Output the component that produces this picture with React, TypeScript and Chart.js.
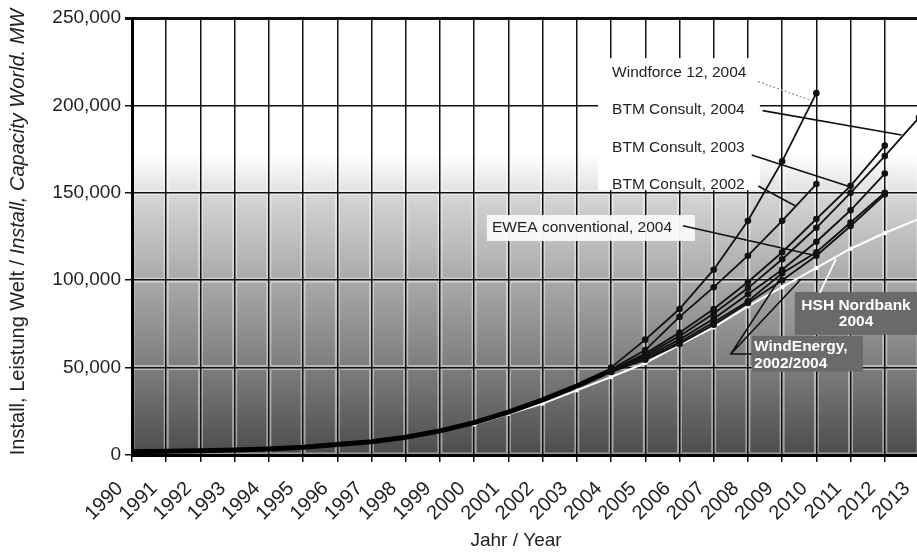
import React, { useEffect, useRef } from "react";
import { Chart, registerables } from "chart.js";

Chart.register(...registerables);

const FONT = '"Liberation Sans", Arial, Helvetica, sans-serif';

// ---- data ----
const years = [1990, 1991, 1992, 1993, 1994, 1995, 1996, 1997, 1998, 1999, 2000, 2001, 2002, 2003, 2004, 2005, 2006, 2007, 2008, 2009, 2010, 2011, 2012, 2013];
const yTicks = [0, 50000, 100000, 150000, 200000, 250000];

const actual = [1900, 2200, 2400, 2900, 3500, 4500, 6000, 7600, 10200, 13800, 18500, 24500, 31500, 39500, 48500, null, null, null, null, null, null, null, null, null];
const windforce2004 = [null, null, null, null, null, null, null, null, null, null, null, null, null, null, 50000, 66000, 83500, 106000, 134000, 168000, 207000, null, null, null];
const btm2002 = [null, null, null, null, null, null, null, null, null, null, null, null, null, null, 49000, 60000, 79000, 96000, 114000, 134000, 155000, null, null, null];
const btm2003 = [null, null, null, null, null, null, null, null, null, null, null, null, null, null, 48500, 58000, 70000, 83500, 99000, 116000, 135000, 154000, 177000, null];
const btm2004 = [null, null, null, null, null, null, null, null, null, null, null, null, null, null, 48000, 57000, 68000, 81000, 95500, 112000, 130000, 150000, 171000, 193000];
const windEnergy2002 = [null, null, null, null, null, null, null, null, null, null, null, null, null, null, 48000, 56000, 66000, 78000, 92000, 106000, 122000, 140000, 161000, null];
const ewea2004 = [null, null, null, null, null, null, null, null, null, null, null, null, null, null, 47500, 55000, 64500, 76000, 88000, 104000, 116000, 133000, 150000, null];
const windEnergy2004 = [null, null, null, null, null, null, null, null, null, null, null, null, null, null, 47500, 54500, 63500, 74500, 87000, 100000, 114000, 131000, 149000, null];
const hsh2004 = [null, null, null, null, null, null, null, null, null, null, 17500, 23500, 29500, 37000, 44600, 52600, 63000, 73000, 85000, 96000, 107000, 118000, 127000, 135000];

// ---- callout labels (anchored in data units: [year, MW]) ----
const topLabels = [
  { text: "Windforce 12, 2004", at: [2004.03, 218500], from: [2008.3, 213600], to: [2009.87, 202700], dotted: true },
  { text: "BTM Consult, 2004", at: [2004.03, 197400], from: [2008.43, 197000], to: [2012.49, 183100], dotted: false },
  { text: "BTM Consult, 2003", at: [2004.03, 175600], from: [2008.11, 171600], to: [2010.98, 153500], dotted: false },
  { text: "BTM Consult, 2002", at: [2004.03, 154500], from: [2008.3, 153900], to: [2009.38, 142600], dotted: false },
];
const topBox = [[2003.62, 227000], [2008.35, 151500]];
const eweaLabel = { text: "EWEA conventional, 2004", at: [2000.52, 129900], box: [[2000.37, 137300], [2006.45, 122400]], from: [2006.1, 131200], to: [2009.9, 114400] };
const hshLabel = { lines: ["HSH Nordbank", "2004"], at: [[2011.16, 85200], [2011.16, 76100]], box: [[2009.37, 93300], [2013.4, 68700]], from: [2010.1, 92700], to: [2010.57, 112100] };
const weLabel = { lines: ["WindEnergy,", "2002/2004"], at: [[2008.18, 62000], [2008.18, 52500]], box: [[2008.11, 68100], [2011.36, 47700]], corner: [2007.5, 57800], to1: [2009.02, 103500], to2: [2009.55, 100500] };

function pts(arr: (number | null)[]) {
  const out: { x: number; y: number }[] = [];
  arr.forEach((v, i) => {
    if (v !== null) out.push({ x: years[i], y: v });
  });
  return out;
}

const bgPlugin = {
  id: "bgPlugin",
  beforeDraw(chart: any) {
    const { ctx, chartArea: a, scales } = chart;
    const ys = scales.y;
    const xs = scales.x;
    const w = a.right - a.left;
    ctx.save();
    ctx.fillStyle = "#ffffff";
    ctx.fillRect(a.left, a.top, w, a.bottom - a.top);
    const y172 = ys.getPixelForValue(172000);
    const y150 = ys.getPixelForValue(150000);
    let g = ctx.createLinearGradient(0, y172, 0, y150);
    g.addColorStop(0, "#ffffff");
    g.addColorStop(1, "#e0e0e0");
    ctx.fillStyle = g;
    ctx.fillRect(a.left, y172, w, y150 - y172);
    g = ctx.createLinearGradient(0, y150, 0, a.bottom);
    g.addColorStop(0, "#d6d6d6");
    g.addColorStop(0.333, "#a9a9a9");
    g.addColorStop(0.667, "#7d7d7d");
    g.addColorStop(1, "#4c4c4c");
    ctx.fillStyle = g;
    ctx.fillRect(a.left, y150, w, a.bottom - y150);
    // soft white halo around grid lines
    ctx.strokeStyle = "rgba(255,255,255,0.45)";
    ctx.lineWidth = 5;
    ctx.beginPath();
    years.forEach((yr) => {
      const px = xs.getPixelForValue(yr);
      ctx.moveTo(px, y172);
      ctx.lineTo(px, a.bottom);
    });
    yTicks.forEach((v) => {
      if (v <= 150000) {
        const py = ys.getPixelForValue(v);
        ctx.moveTo(a.left, py);
        ctx.lineTo(a.right, py);
      }
    });
    ctx.stroke();
    ctx.restore();
  },
  beforeDatasetsDraw(chart: any) {
    const { ctx, scales } = chart;
    const X = (v: number) => scales.x.getPixelForValue(v);
    const Y = (v: number) => scales.y.getPixelForValue(v);
    ctx.save();
    ctx.fillStyle = "#ffffff";
    ctx.fillRect(X(topBox[0][0]), Y(topBox[0][1]), X(topBox[1][0]) - X(topBox[0][0]), Y(topBox[1][1]) - Y(topBox[0][1]));
    const b = eweaLabel.box;
    ctx.fillStyle = "rgba(250,250,250,0.95)";
    ctx.fillRect(X(b[0][0]), Y(b[0][1]), X(b[1][0]) - X(b[0][0]), Y(b[1][1]) - Y(b[0][1]));
    ctx.restore();
  },
  afterDatasetsDraw(chart: any) {
    const { ctx, scales } = chart;
    const X = (v: number) => scales.x.getPixelForValue(v);
    const Y = (v: number) => scales.y.getPixelForValue(v);
    ctx.save();
    ctx.font = `15.5px ${FONT}`;
    ctx.textBaseline = "middle";
    ctx.textAlign = "left";
    topLabels.forEach((l) => {
      ctx.fillStyle = "#222";
      ctx.fillText(l.text, X(l.at[0]), Y(l.at[1]));
      ctx.beginPath();
      if (l.dotted) {
        ctx.setLineDash([2, 2]);
        ctx.strokeStyle = "#9a9a9a";
        ctx.lineWidth = 1.3;
      } else {
        ctx.setLineDash([]);
        ctx.strokeStyle = "#111";
        ctx.lineWidth = 1.6;
      }
      ctx.moveTo(X(l.from[0]), Y(l.from[1]));
      ctx.lineTo(X(l.to[0]), Y(l.to[1]));
      ctx.stroke();
    });
    ctx.setLineDash([]);
    // EWEA
    ctx.fillStyle = "#222";
    ctx.fillText(eweaLabel.text, X(eweaLabel.at[0]), Y(eweaLabel.at[1]));
    ctx.strokeStyle = "#111";
    ctx.lineWidth = 1.6;
    ctx.beginPath();
    ctx.moveTo(X(eweaLabel.from[0]), Y(eweaLabel.from[1]));
    ctx.lineTo(X(eweaLabel.to[0]), Y(eweaLabel.to[1]));
    ctx.stroke();
    // HSH
    let b = hshLabel.box;
    ctx.fillStyle = "#6a6a6a";
    ctx.fillRect(X(b[0][0]), Y(b[0][1]), X(b[1][0]) - X(b[0][0]), Y(b[1][1]) - Y(b[0][1]));
    ctx.font = `bold 15.5px ${FONT}`;
    ctx.fillStyle = "#ffffff";
    ctx.textAlign = "center";
    hshLabel.lines.forEach((t, i) => ctx.fillText(t, X(hshLabel.at[i][0]), Y(hshLabel.at[i][1])));
    ctx.strokeStyle = "#ffffff";
    ctx.lineWidth = 1.8;
    ctx.beginPath();
    ctx.moveTo(X(hshLabel.from[0]), Y(hshLabel.from[1]));
    ctx.lineTo(X(hshLabel.to[0]), Y(hshLabel.to[1]));
    ctx.stroke();
    // WindEnergy
    b = weLabel.box;
    ctx.fillStyle = "#6a6a6a";
    ctx.fillRect(X(b[0][0]), Y(b[0][1]), X(b[1][0]) - X(b[0][0]), Y(b[1][1]) - Y(b[0][1]));
    ctx.fillStyle = "#ffffff";
    ctx.textAlign = "left";
    weLabel.lines.forEach((t, i) => ctx.fillText(t, X(weLabel.at[i][0]), Y(weLabel.at[i][1])));
    ctx.strokeStyle = "#111";
    ctx.lineWidth = 1.6;
    ctx.beginPath();
    ctx.moveTo(X(b[0][0]), Y(weLabel.corner[1]));
    ctx.lineTo(X(weLabel.corner[0]), Y(weLabel.corner[1]));
    ctx.lineTo(X(weLabel.to1[0]), Y(weLabel.to1[1]));
    ctx.moveTo(X(weLabel.corner[0]), Y(weLabel.corner[1]));
    ctx.lineTo(X(weLabel.to2[0]), Y(weLabel.to2[1]));
    ctx.stroke();
    ctx.restore();
  },
  afterDraw(chart: any) {
    const { ctx } = chart;
    ctx.save();
    // y-axis title (mixed upright / italic)
    const p1 = "Install, Leistung Welt / ";
    const p2 = "Install, Capacity World. MW";
    ctx.translate(18, 232);
    ctx.rotate(-Math.PI / 2);
    ctx.font = `20px ${FONT}`;
    const w1 = ctx.measureText(p1).width;
    ctx.font = `italic 20px ${FONT}`;
    const w2 = ctx.measureText(p2).width;
    const start = -(w1 + w2) / 2;
    ctx.fillStyle = "#222";
    ctx.textBaseline = "middle";
    ctx.textAlign = "left";
    ctx.font = `20px ${FONT}`;
    ctx.fillText(p1, start, 0);
    ctx.font = `italic 20px ${FONT}`;
    ctx.fillText(p2, start + w1, 0);
    ctx.restore();
    ctx.save();
    ctx.font = `19px ${FONT}`;
    ctx.fillStyle = "#222";
    ctx.textAlign = "center";
    ctx.textBaseline = "middle";
    ctx.fillText("Jahr / Year", 516, 541);
    ctx.restore();
  },
};

export default function App() {
  const ref = useRef<HTMLCanvasElement | null>(null);
  useEffect(() => {
    if (!ref.current) return;
    const lineDs = (data: (number | null)[], opts: any = {}) => ({
      data: pts(data),
      borderColor: "#111",
      backgroundColor: "#111",
      borderWidth: 1.8,
      pointRadius: 3.3,
      pointBackgroundColor: "#111",
      pointBorderWidth: 0,
      tension: 0,
      ...opts,
    });
    const chart = new Chart(ref.current, {
      type: "line",
      data: {
        datasets: [
          lineDs(windforce2004, { label: "Windforce 12, 2004" }),
          lineDs(btm2002, { label: "BTM Consult, 2002" }),
          lineDs(btm2003, { label: "BTM Consult, 2003" }),
          lineDs(btm2004, { label: "BTM Consult, 2004" }),
          lineDs(windEnergy2002, { label: "WindEnergy, 2002" }),
          lineDs(ewea2004, { label: "EWEA conventional, 2004" }),
          lineDs(windEnergy2004, { label: "WindEnergy, 2004" }),
          lineDs(actual, { label: "Ist", borderWidth: 5, pointRadius: 0, borderColor: "#000" }),
          lineDs(hsh2004, { label: "HSH Nordbank 2004", borderColor: "#ffffff", backgroundColor: "#ffffff", pointBackgroundColor: "#ffffff", borderWidth: 2, pointRadius: 2.2 }),
        ],
      },
      options: {
        responsive: false,
        animation: false,
        devicePixelRatio: 1,
        layout: { padding: { top: 18, right: 11, left: 0, bottom: 0 } },
        plugins: { legend: { display: false }, tooltip: { enabled: false }, title: { display: false } },
        scales: {
          x: {
            type: "linear",
            min: 1990,
            max: 2013,
            afterFit: (s: any) => {
              s.height = 103;
              s.paddingLeft = 0;
              s.paddingRight = 0;
            },
            ticks: {
              stepSize: 1,
              autoSkip: false,
              maxRotation: 45,
              minRotation: 45,
              padding: 15,
              labelOffset: -12,
              color: "#222",
              font: { family: FONT, size: 20 },
              callback: (v: any) => String(v),
            },
            grid: { color: "#111", lineWidth: 1.5, tickLength: 7 },
            border: { color: "#000", width: 3 },
          },
          y: {
            min: 0,
            max: 250000,
            afterFit: (s: any) => {
              s.width = 132;
            },
            ticks: {
              stepSize: 50000,
              padding: 4,
              color: "#222",
              font: { family: FONT, size: 19 },
              callback: (v: any) => Number(v).toLocaleString("en-US"),
            },
            grid: {
              color: "#111",
              lineWidth: (c: any) => (c.tick && c.tick.value === 250000 ? 3 : 1.5),
              tickLength: 7,
            },
            border: { color: "#000", width: 3 },
          },
        },
      },
      plugins: [bgPlugin],
    });
    return () => chart.destroy();
  }, []);
  return (
    <div style={{ position: "fixed", left: 0, top: 0, width: 917, height: 558, overflow: "hidden", background: "#fff" }}>
      <canvas ref={ref} width={930} height={558} style={{ width: 930, height: 558, display: "block" }} />
    </div>
  );
}
